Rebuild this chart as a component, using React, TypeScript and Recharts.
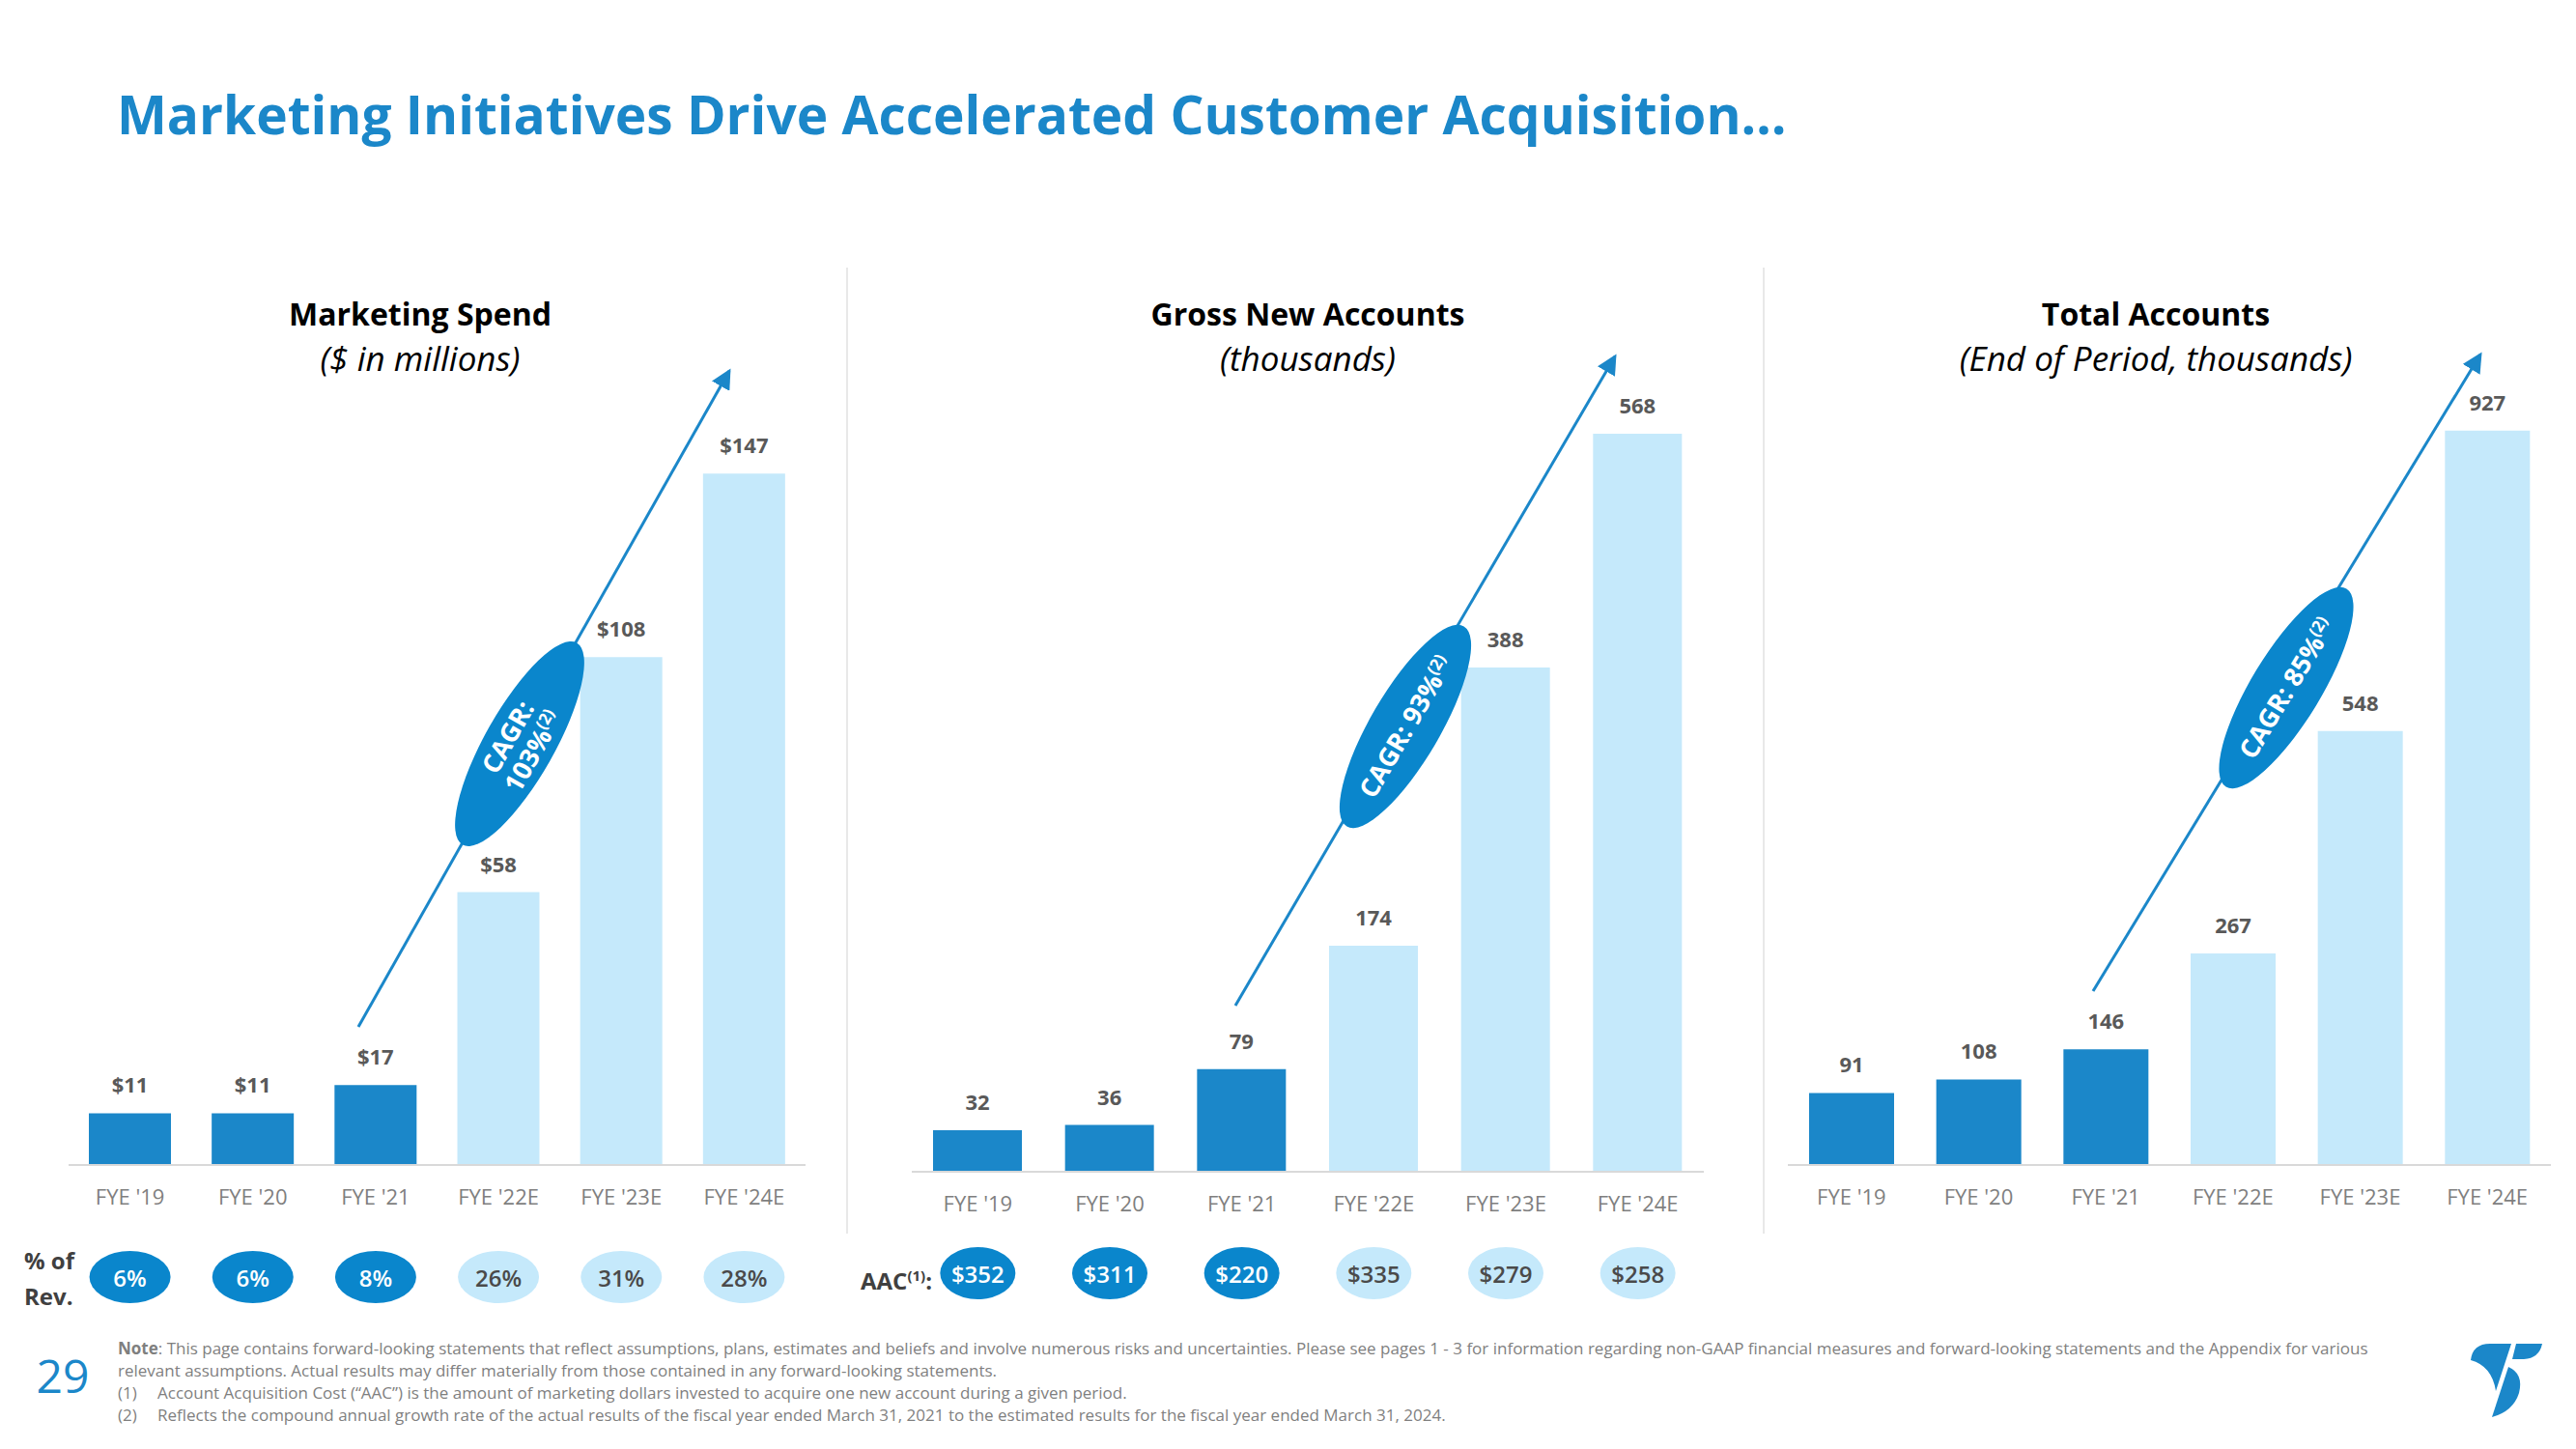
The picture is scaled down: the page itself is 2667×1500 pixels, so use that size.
import React from "react";
import { BarChart, Bar, XAxis, YAxis, Cell, LabelList } from "recharts";

const years = ["FYE '19", "FYE '20", "FYE '21", "FYE '22E", "FYE '23E", "FYE '24E"];
const isActual = [true, true, true, false, false, false];

const marketingSpend = [11, 11, 17, 58, 108, 147];
const grossNewAccounts = [32, 36, 79, 174, 388, 568];
const totalAccounts = [91, 108, 146, 267, 548, 927];

const pctOfRevenue = ["6%", "6%", "8%", "26%", "31%", "28%"];
const aacValues = ["$352", "$311", "$220", "$335", "$279", "$258"];

const BLUE = "#1b87c9";
const BADGE = "#0a86cc";
const LIGHT = "#c5e9fb";
const FONT = "'Open Sans', 'DejaVu Sans', sans-serif";

type PanelProps = {
  values: number[];
  prefix: string;
  domainMax: number;
  left: number;
  top: number;
  width: number;
  height: number;
  margin: { top: number; right: number; bottom: number; left: number };
  axisHeight: number;
  barSize: number;
  badges?: string[];
  badgeDy?: number;
  badgeRx?: number;
};

const makeTick = (badges?: string[], badgeDy = 110, rx = 42) => (props: any) => {
  const { x, y, payload } = props;
  const i = payload?.index ?? props.index ?? 0;
  return (
    <g>
      <text
        x={x}
        y={y + 32}
        textAnchor="middle"
        dominantBaseline="central"
        fill="#7f7f7f"
        fontSize={22}
        fontFamily={FONT}
      >
        {payload.value}
      </text>
      {badges && (
        <g>
          <ellipse cx={x} cy={y + badgeDy} rx={rx} ry={27} fill={isActual[i] ? BADGE : LIGHT} />
          <text
            x={x}
            y={y + badgeDy}
            textAnchor="middle"
            dominantBaseline="central"
            fill={isActual[i] ? "#ffffff" : "#4a4a4a"}
            fontSize={24}
            fontWeight={600}
            fontFamily={FONT}
          >
            {badges[i]}
          </text>
        </g>
      )}
    </g>
  );
};

const Panel = (p: PanelProps) => {
  const data = years.map((year, i) => ({ year, value: p.values[i] }));
  return (
    <div style={{ position: "absolute", left: p.left, top: p.top }}>
      <BarChart width={p.width} height={p.height} data={data} margin={p.margin}>
        <XAxis
          dataKey="year"
          interval={0}
          tickLine={false}
          tickSize={0}
          tickMargin={0}
          height={p.axisHeight}
          axisLine={{ stroke: "#d9d9d9", strokeWidth: 2 }}
          tick={makeTick(p.badges, p.badgeDy, p.badgeRx)}
        />
        <YAxis hide domain={[0, p.domainMax]} />
        <Bar dataKey="value" barSize={p.barSize} isAnimationActive={false}>
          {data.map((d, i) => (
            <Cell key={d.year} fill={isActual[i] ? BLUE : LIGHT} />
          ))}
          <LabelList
            dataKey="value"
            position="top"
            offset={21}
            fill="#595959"
            fontSize={22}
            fontWeight={700}
            fontFamily={FONT}
            formatter={(v: any) => p.prefix + v}
          />
        </Bar>
      </BarChart>
    </div>
  );
};

// CAGR arrows, drawn over the charts
const cagr = [
  { x1: 371, y1: 1063, x2: 755, y2: 384, cx: 538, cy: 770, rx: 120, ry: 36, lines: ["CAGR:", "103%"] },
  { x1: 1279, y1: 1041, x2: 1672, y2: 369, cx: 1455, cy: 752, rx: 120, ry: 36, lines: ["CAGR: 93%"] },
  { x1: 2167, y1: 1026, x2: 2568, y2: 367, cx: 2367, cy: 712, rx: 120, ry: 36, lines: ["CAGR: 85%"] },
];

const Arrows = () => (
  <svg width={2667} height={1500} style={{ position: "absolute", left: 0, top: 0, pointerEvents: "none" }}>
    <defs>
      <marker id="head" markerWidth="7" markerHeight="7" refX="6" refY="3.5" orient="auto" markerUnits="strokeWidth">
        <path d="M0,0 L7,3.5 L0,7 Z" fill={BLUE} />
      </marker>
    </defs>
    {cagr.map((a, k) => {
      const ang = (Math.atan2(a.y2 - a.y1, a.x2 - a.x1) * 180) / Math.PI;
      const n = a.lines.length;
      return (
        <g key={k}>
          <line x1={a.x1} y1={a.y1} x2={a.x2} y2={a.y2} stroke={BLUE} strokeWidth={3} markerEnd="url(#head)" />
          <g transform={`translate(${a.cx},${a.cy}) rotate(${ang})`}>
            <ellipse cx={0} cy={0} rx={a.rx} ry={a.ry} fill={BADGE} />
            {a.lines.map((t, j) => (
              <text
                key={j}
                x={0}
                y={(j - (n - 1) / 2) * 30}
                textAnchor="middle"
                dominantBaseline="central"
                fill="#ffffff"
                fontSize={27}
                fontWeight={700}
                fontFamily={FONT}
              >
                {t}
                {j === n - 1 && (
                  <tspan fontSize={17} dy={-6}>
                    (2)
                  </tspan>
                )}
              </text>
            ))}
          </g>
        </g>
      );
    })}
  </svg>
);

const Heading = ({ cx, title, sub }: { cx: number; title: string; sub: string }) => (
  <>
    <div style={{ position: "absolute", left: cx - 400, width: 800, top: 303, textAlign: "center", fontSize: 32, fontWeight: 700, color: "#000", lineHeight: "44px" }}>
      {title}
    </div>
    <div style={{ position: "absolute", left: cx - 400, width: 800, top: 348, textAlign: "center", fontSize: 35, fontStyle: "italic", color: "#000", lineHeight: "46px" }}>
      {sub}
    </div>
  </>
);

const noteStyle: React.CSSProperties = { position: "absolute", left: 122, fontSize: 17, color: "#7f7f7f", lineHeight: "23px", whiteSpace: "nowrap" };

const App = () => {
  return (
    <div style={{ position: "absolute", left: 0, top: 0, width: 2667, height: 1500, background: "#fff", fontFamily: FONT, overflow: "hidden" }}>
      <div style={{ position: "absolute", left: 121, top: 80, fontSize: 55, fontWeight: 700, color: BLUE, lineHeight: "76px", whiteSpace: "nowrap" }}>
        Marketing Initiatives Drive Accelerated Customer Acquisition…
      </div>

      <Heading cx={435} title="Marketing Spend" sub="($ in millions)" />
      <Heading cx={1354} title="Gross New Accounts" sub="(thousands)" />
      <Heading cx={2232} title="Total Accounts" sub="(End of Period, thousands)" />

      <div style={{ position: "absolute", left: 876, top: 277, width: 2, height: 1000, background: "#e8e8e8" }} />
      <div style={{ position: "absolute", left: 1825, top: 277, width: 2, height: 1000, background: "#e8e8e8" }} />

      <Panel
        values={marketingSpend}
        prefix="$"
        domainMax={160}
        left={50}
        top={400}
        width={820}
        height={1000}
        margin={{ top: 27, right: 36, bottom: 0, left: 21 }}
        axisHeight={194}
        barSize={85}
        badges={pctOfRevenue}
        badgeDy={116}
        badgeRx={42}
      />
      <Panel
        values={grossNewAccounts}
        prefix=""
        domainMax={620}
        left={900}
        top={350}
        width={900}
        height={1050}
        margin={{ top: 29, right: 36, bottom: 0, left: 44 }}
        axisHeight={187}
        barSize={92}
        badges={aacValues}
        badgeDy={105}
        badgeRx={39}
      />
      <Panel
        values={totalAccounts}
        prefix=""
        domainMax={1000}
        left={1840}
        top={350}
        width={820}
        height={1050}
        margin={{ top: 36, right: 19, bottom: 0, left: 11 }}
        axisHeight={194}
        barSize={88}
      />

      <Arrows />

      <div style={{ position: "absolute", left: 25, top: 1286, fontSize: 24, fontWeight: 700, color: "#404040", lineHeight: "37px" }}>
        % of
        <br />
        Rev.
      </div>
      <div style={{ position: "absolute", left: 891, top: 1304, fontSize: 24, fontWeight: 700, color: "#404040", lineHeight: "32px" }}>
        AAC<sup style={{ fontSize: 15 }}>(1)</sup>:
      </div>

      <div style={{ position: "absolute", left: 25, top: 1394, width: 80, textAlign: "center", fontSize: 48, color: BLUE, lineHeight: "60px" }}>
        29
      </div>

      <div style={{ ...noteStyle, top: 1384 }}>
        <b>Note</b>: This page contains forward-looking statements that reflect assumptions, plans, estimates and beliefs and involve numerous risks and uncertainties. Please see pages 1 - 3 for information regarding non-GAAP financial measures and forward-looking statements and the Appendix for various
      </div>
      <div style={{ ...noteStyle, top: 1407 }}>
        relevant assumptions. Actual results may differ materially from those contained in any forward-looking statements.
      </div>
      <div style={{ ...noteStyle, top: 1430 }}>
        (1)<span style={{ position: "absolute", left: 41 }}>Account Acquisition Cost (“AAC”) is the amount of marketing dollars invested to acquire one new account during a given period.</span>
      </div>
      <div style={{ ...noteStyle, top: 1453 }}>
        (2)<span style={{ position: "absolute", left: 41 }}>Reflects the compound annual growth rate of the actual results of the fiscal year ended March 31, 2021 to the estimated results for the fiscal year ended March 31, 2024.</span>
      </div>

      <svg width={217} height={140} style={{ position: "absolute", left: 2450, top: 1360 }}>
        <path d="M108 48 Q110 31 128 31 L150 31 L134 80 Q130 54 108 48 Z" fill={BLUE} />
        <path d="M155 31 L182 31 Q179 46 163 47 L151 47 Z" fill={BLUE} />
        <path d="M147 55 Q163 62 158 82 Q152 101 130 107 Z" fill={BLUE} />
      </svg>
    </div>
  );
};

export default App;
